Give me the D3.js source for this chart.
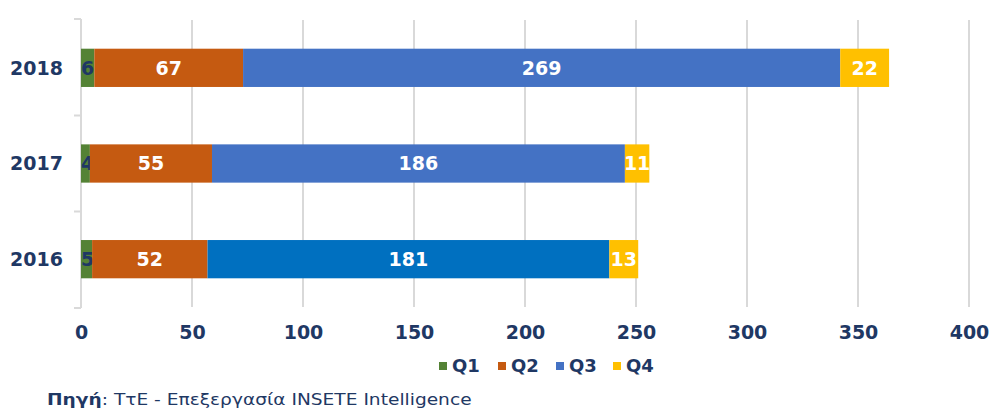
<!DOCTYPE html>
<html>
<head>
<meta charset="utf-8">
<script src="https://cdn.jsdelivr.net/npm/d3@7"></script>
<style>
  body { margin: 0; background: #fff; }
  svg { display: block; font-family: "DejaVu Sans", Verdana, sans-serif; }
</style>
</head>
<body>
<div id="chart"></div>
<script>
// data
const years = ["2018", "2017", "2016"];
const quarters = ["Q1", "Q2", "Q3", "Q4"];
const q1 = [6, 4, 5];
const q2 = [67, 55, 52];
const q3 = [269, 186, 181];
const q4 = [22, 11, 13];
const xTicks = [0, 50, 100, 150, 200, 250, 300, 350, 400];

const width = 991, height = 410;
const navy = "#1F3864";
const colors = {Q1: "#548235", Q2: "#C55A11", Q3: "#4472C4", Q4: "#FFC000"};

const rows = years.map((y, i) => ({year: y, Q1: q1[i], Q2: q2[i], Q3: q3[i], Q4: q4[i]}));
const stacked = d3.stack().keys(quarters)(rows);

const x = d3.scaleLinear().domain([0, 400]).range([81, 969]);
const y = d3.scaleBand().domain(years).range([20, 307]).paddingInner(0.6).paddingOuter(0.3);

const svg = d3.select("#chart").append("svg")
    .attr("width", width)
    .attr("height", height);

// grid
svg.append("g")
    .selectAll("line")
    .data(xTicks.slice(1))
    .join("line")
    .attr("x1", d => x(d)).attr("x2", d => x(d))
    .attr("y1", 20).attr("y2", 307)
    .attr("stroke", "#D9D9D9")
    .attr("stroke-width", 2);

// category axis line + ticks between categories
svg.append("line")
    .attr("x1", x(0)).attr("x2", x(0))
    .attr("y1", 19).attr("y2", 308)
    .attr("stroke", "#D9D9D9").attr("stroke-width", 2);
const bounds = [19, 115.5, 211.5, 308];
svg.append("g")
    .selectAll("line")
    .data(bounds)
    .join("line")
    .attr("x1", x(0) - 7).attr("x2", x(0))
    .attr("y1", d => d).attr("y2", d => d)
    .attr("stroke", "#D9D9D9").attr("stroke-width", 2);

// bars
const layer = svg.append("g")
    .selectAll("g")
    .data(stacked)
    .join("g");

layer.selectAll("rect")
    .data(s => s.map(d => ({key: s.key, d})))
    .join("rect")
    .attr("x", o => x(o.d[0]))
    .attr("width", o => x(o.d[1]) - x(o.d[0]))
    .attr("y", o => y(o.d.data.year))
    .attr("height", y.bandwidth())
    .attr("fill", o => (o.key === "Q3" && o.d.data.year === "2016") ? "#0070C0" : colors[o.key]);

// value labels
layer.selectAll("text")
    .data(s => s.map(d => ({key: s.key, d})))
    .join("text")
    .attr("x", o => o.key === "Q1" ? x(o.d[0]) : (x(o.d[0]) + x(o.d[1])) / 2)
    .attr("y", o => y(o.d.data.year) + y.bandwidth() / 2)
    .attr("dy", "0.36em")
    .attr("text-anchor", o => o.key === "Q1" ? "start" : "middle")
    .attr("font-size", 19)
    .attr("font-weight", "bold")
    .attr("fill", o => o.key === "Q1" ? navy : "#fff")
    .text(o => o.d[1] - o.d[0]);

// year labels
svg.append("g")
    .selectAll("text")
    .data(years)
    .join("text")
    .attr("x", 63)
    .attr("y", d => y(d) + y.bandwidth() / 2)
    .attr("dy", "0.36em")
    .attr("text-anchor", "end")
    .attr("font-size", 19)
    .attr("font-weight", "bold")
    .attr("fill", navy)
    .text(d => d);

// value axis labels
svg.append("g")
    .attr("transform", "translate(0,307)")
    .call(d3.axisBottom(x).tickValues(xTicks).tickSize(0).tickPadding(32))
    .call(g => g.select(".domain").remove())
    .call(g => g.selectAll("text")
        .attr("dy", 0)
        .attr("font-family", "DejaVu Sans, Verdana, sans-serif")
        .attr("font-size", 19)
        .attr("font-weight", "bold")
        .attr("fill", navy));

// legend
const legendX = [439, 498, 556, 613];
const legend = svg.append("g")
    .selectAll("g")
    .data(quarters)
    .join("g")
    .attr("transform", (d, i) => `translate(${legendX[i]},366)`);
legend.append("rect")
    .attr("x", 0).attr("y", -4)
    .attr("width", 8).attr("height", 8)
    .attr("fill", d => colors[d]);
legend.append("text")
    .attr("x", 13)
    .attr("dy", "0.36em")
    .attr("font-size", 18)
    .attr("font-weight", "bold")
    .attr("fill", navy)
    .text(d => d);

// source note, stretched to the width it has in the original
const src = svg.append("text")
    .attr("x", 0).attr("y", 0)
    .attr("font-size", 15.5)
    .attr("fill", navy);
src.append("tspan").attr("font-weight", "bold").text("Πηγή");
src.append("tspan").text(": ΤτΕ - Επεξεργασία INSETE Intelligence");
const srcW = src.node().getComputedTextLength();
src.attr("transform", `translate(47,405) scale(${425 / srcW},1)`);
</script>
</body>
</html>
